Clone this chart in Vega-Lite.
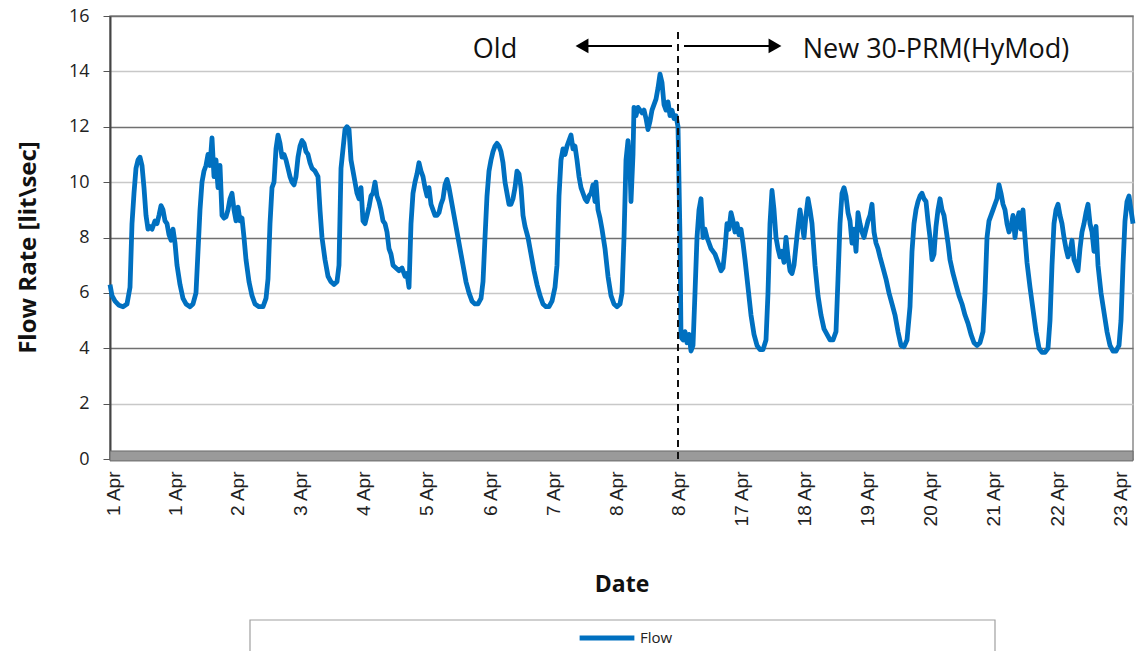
{
  "$schema": "https://vega.github.io/schema/vega-lite/v6.json",
  "autosize": "none",
  "padding": {"left": 110, "top": 16, "right": 12, "bottom": 192},
  "width": 1023,
  "height": 443,
  "background": "white",
  "config": {"font": "Open Sans", "view": {"stroke": "#8a8a8a", "strokeWidth": 1.5}},
  "layer": [
    {
      "data": {"values": [{"a": 0}]},
      "mark": {"type": "rect", "fill": "#9a9a9a", "stroke": "#6a6a6a", "strokeWidth": 1},
      "encoding": {
        "x": {"datum": 0, "type": "quantitative", "scale": {"domain": [0, 1023], "nice": false, "zero": false}},
        "x2": {"datum": 1023},
        "y": {"datum": -0.07, "type": "quantitative", "scale": {"domain": [0, 16], "nice": false}},
        "y2": {"datum": 0.29}
      }
    },
    {
      "data": {"values": [{"a": 0}]},
      "mark": {"type": "rect", "fill": "white", "stroke": "#a0a0a0", "strokeWidth": 1.2},
      "encoding": {
        "x": {"datum": 140, "type": "quantitative"},
        "x2": {"datum": 885},
        "y": {"datum": -5.815, "type": "quantitative"},
        "y2": {"datum": -7.3}
      }
    },
    {
      "data": {"values": [
{"s":0,"v":6.3},{"s":2,"v":5.9},{"s":5,"v":5.7},{"s":9,"v":5.55},{"s":13,"v":5.5},{"s":17,"v":5.6},{"s":20,"v":6.2},{"s":22,"v":8.5},{"s":24,"v":9.6},{"s":26,"v":10.5},{"s":28,"v":10.8},{"s":30,"v":10.9},{"s":32,"v":10.6},{"s":34,"v":9.8},{"s":36,"v":8.8},{"s":38,"v":8.3},{"s":40,"v":8.4},{"s":42,"v":8.3},{"s":45,"v":8.6},{"s":47,"v":8.5},{"s":49,"v":8.8},{"s":51,"v":9.15},{"s":53,"v":9.0},{"s":55,"v":8.6},{"s":57,"v":8.5},{"s":59,"v":8.1},{"s":61,"v":7.9},{"s":63,"v":8.3},{"s":65,"v":7.8},{"s":67,"v":7.0},{"s":70,"v":6.3},{"s":73,"v":5.8},{"s":76,"v":5.6},{"s":80,"v":5.5},{"s":83,"v":5.6},{"s":86,"v":6.0},
{"s":88,"v":7.5},{"s":90,"v":9.0},{"s":92,"v":10.0},{"s":94,"v":10.4},{"s":96,"v":10.6},{"s":98,"v":11.0},{"s":100,"v":10.6},{"s":102,"v":11.6},{"s":104,"v":10.2},{"s":106,"v":10.8},{"s":108,"v":9.8},{"s":110,"v":10.6},{"s":112,"v":8.8},{"s":114,"v":8.7},{"s":116,"v":8.75},{"s":118,"v":9.0},{"s":120,"v":9.4},{"s":122,"v":9.6},{"s":124,"v":9.0},{"s":126,"v":8.6},{"s":128,"v":9.1},{"s":130,"v":8.6},{"s":132,"v":8.7},{"s":134,"v":8.0},{"s":136,"v":7.2},{"s":139,"v":6.4},{"s":142,"v":5.9},{"s":145,"v":5.6},{"s":149,"v":5.5},{"s":153,"v":5.5},{"s":156,"v":5.8},{"s":158,"v":6.5},
{"s":160,"v":8.5},{"s":162,"v":9.8},{"s":164,"v":10.0},{"s":166,"v":11.2},{"s":168,"v":11.7},{"s":170,"v":11.4},{"s":172,"v":10.9},{"s":174,"v":11.0},{"s":176,"v":10.8},{"s":178,"v":10.5},{"s":180,"v":10.2},{"s":182,"v":10.0},{"s":184,"v":9.9},{"s":186,"v":10.2},{"s":188,"v":10.9},{"s":190,"v":11.3},{"s":192,"v":11.5},{"s":194,"v":11.4},{"s":196,"v":11.1},{"s":198,"v":11.0},{"s":200,"v":10.7},{"s":202,"v":10.5},{"s":205,"v":10.4},{"s":208,"v":10.2},{"s":210,"v":9.0},{"s":212,"v":8.0},{"s":215,"v":7.2},{"s":218,"v":6.6},{"s":221,"v":6.4},{"s":224,"v":6.3},{"s":227,"v":6.4},{"s":229,"v":7.0},
{"s":231,"v":10.5},{"s":233,"v":11.2},{"s":235,"v":11.9},{"s":237,"v":12.0},{"s":239,"v":11.9},{"s":241,"v":10.8},{"s":243,"v":10.4},{"s":245,"v":10.0},{"s":247,"v":9.6},{"s":249,"v":9.4},{"s":251,"v":9.8},{"s":253,"v":8.6},{"s":255,"v":8.5},{"s":257,"v":8.8},{"s":259,"v":9.1},{"s":261,"v":9.5},{"s":263,"v":9.6},{"s":265,"v":10.0},{"s":267,"v":9.5},{"s":269,"v":9.3},{"s":271,"v":9.0},{"s":273,"v":8.6},{"s":275,"v":8.5},{"s":277,"v":8.2},{"s":279,"v":7.6},{"s":281,"v":7.4},{"s":283,"v":7.0},{"s":286,"v":6.9},{"s":289,"v":6.8},{"s":292,"v":6.9},{"s":295,"v":6.6},{"s":297,"v":6.7},{"s":299,"v":6.2},
{"s":301,"v":8.5},{"s":303,"v":9.6},{"s":305,"v":10.0},{"s":307,"v":10.3},{"s":309,"v":10.7},{"s":311,"v":10.4},{"s":313,"v":10.2},{"s":315,"v":9.8},{"s":317,"v":9.5},{"s":319,"v":9.8},{"s":321,"v":9.2},{"s":323,"v":9.0},{"s":325,"v":8.8},{"s":327,"v":8.8},{"s":329,"v":8.9},{"s":331,"v":9.2},{"s":333,"v":9.4},{"s":335,"v":9.9},{"s":337,"v":10.1},{"s":339,"v":9.8},{"s":341,"v":9.4},{"s":343,"v":9.0},{"s":345,"v":8.6},{"s":347,"v":8.2},{"s":350,"v":7.6},{"s":353,"v":7.0},{"s":356,"v":6.4},{"s":359,"v":6.0},{"s":362,"v":5.7},{"s":365,"v":5.6},{"s":368,"v":5.6},{"s":371,"v":5.8},{"s":373,"v":6.4},
{"s":375,"v":8.0},{"s":377,"v":9.5},{"s":379,"v":10.4},{"s":381,"v":10.8},{"s":383,"v":11.1},{"s":385,"v":11.3},{"s":387,"v":11.4},{"s":389,"v":11.3},{"s":391,"v":11.1},{"s":393,"v":10.7},{"s":395,"v":10.0},{"s":397,"v":9.6},{"s":399,"v":9.2},{"s":401,"v":9.2},{"s":403,"v":9.4},{"s":405,"v":9.8},{"s":407,"v":10.4},{"s":409,"v":10.3},{"s":411,"v":9.8},{"s":413,"v":8.8},{"s":415,"v":8.4},{"s":418,"v":8.0},{"s":421,"v":7.4},{"s":424,"v":6.8},{"s":427,"v":6.3},{"s":430,"v":5.9},{"s":433,"v":5.6},{"s":436,"v":5.5},{"s":439,"v":5.5},{"s":442,"v":5.7},{"s":445,"v":6.2},{"s":447,"v":7.0},
{"s":449,"v":9.5},{"s":451,"v":10.8},{"s":453,"v":11.2},{"s":455,"v":11.0},{"s":457,"v":11.3},{"s":459,"v":11.5},{"s":461,"v":11.7},{"s":463,"v":11.2},{"s":465,"v":11.3},{"s":467,"v":10.8},{"s":469,"v":10.2},{"s":471,"v":9.8},{"s":473,"v":9.6},{"s":475,"v":9.4},{"s":477,"v":9.3},{"s":479,"v":9.5},{"s":481,"v":9.6},{"s":483,"v":9.9},{"s":485,"v":9.3},{"s":486,"v":10.0},{"s":488,"v":9.0},{"s":490,"v":8.7},{"s":492,"v":8.3},{"s":495,"v":7.6},{"s":498,"v":6.6},{"s":501,"v":5.9},{"s":504,"v":5.6},{"s":507,"v":5.5},{"s":510,"v":5.6},{"s":512,"v":6.0},
{"s":514,"v":8.0},{"s":516,"v":10.8},{"s":518,"v":11.5},{"s":520,"v":10.5},{"s":521,"v":9.3},{"s":523,"v":11.0},{"s":524,"v":12.7},{"s":526,"v":12.4},{"s":528,"v":12.7},{"s":530,"v":12.6},{"s":532,"v":12.5},{"s":534,"v":12.6},{"s":536,"v":12.3},{"s":538,"v":11.9},{"s":540,"v":12.2},{"s":542,"v":12.6},{"s":544,"v":12.8},{"s":546,"v":13.0},{"s":548,"v":13.4},{"s":550,"v":13.9},{"s":552,"v":13.6},{"s":554,"v":12.8},{"s":556,"v":12.6},{"s":558,"v":12.9},{"s":560,"v":12.4},{"s":562,"v":12.6},{"s":564,"v":12.3},{"s":566,"v":12.4},{"s":568,"v":12.0},{"s":570,"v":8.0},
{"s":571,"v":4.4},{"s":573,"v":4.3},{"s":575,"v":4.6},{"s":577,"v":4.2},{"s":579,"v":4.5},{"s":581,"v":3.9},{"s":583,"v":4.1},{"s":585,"v":6.0},{"s":587,"v":8.0},{"s":589,"v":9.0},{"s":591,"v":9.4},{"s":593,"v":8.0},{"s":595,"v":8.3},{"s":597,"v":8.0},{"s":599,"v":7.8},{"s":601,"v":7.6},{"s":603,"v":7.5},{"s":605,"v":7.4},{"s":607,"v":7.2},{"s":609,"v":7.0},{"s":611,"v":6.8},{"s":613,"v":6.9},{"s":615,"v":7.6},{"s":617,"v":8.5},{"s":619,"v":8.3},{"s":621,"v":8.9},{"s":623,"v":8.6},{"s":625,"v":8.2},{"s":627,"v":8.5},{"s":629,"v":8.1},{"s":631,"v":8.3},{"s":633,"v":7.8},{"s":635,"v":7.2},{"s":638,"v":6.2},{"s":641,"v":5.2},{"s":644,"v":4.5},{"s":647,"v":4.1},{"s":650,"v":3.95},{"s":653,"v":3.95},{"s":656,"v":4.3},{"s":658,"v":6.0},
{"s":660,"v":8.5},{"s":662,"v":9.7},{"s":664,"v":9.0},{"s":666,"v":8.0},{"s":668,"v":7.6},{"s":670,"v":7.3},{"s":672,"v":7.5},{"s":674,"v":7.1},{"s":676,"v":8.0},{"s":678,"v":7.3},{"s":680,"v":6.8},{"s":682,"v":6.7},{"s":684,"v":7.0},{"s":686,"v":7.7},{"s":688,"v":8.4},{"s":690,"v":9.0},{"s":692,"v":8.5},{"s":694,"v":8.0},{"s":696,"v":8.8},{"s":698,"v":9.4},{"s":700,"v":9.0},{"s":702,"v":8.5},{"s":705,"v":7.0},{"s":708,"v":5.9},{"s":711,"v":5.2},{"s":714,"v":4.7},{"s":717,"v":4.5},{"s":720,"v":4.3},{"s":723,"v":4.3},{"s":726,"v":4.6},{"s":728,"v":6.5},
{"s":730,"v":8.5},{"s":732,"v":9.6},{"s":734,"v":9.8},{"s":736,"v":9.5},{"s":738,"v":8.9},{"s":740,"v":8.6},{"s":742,"v":7.8},{"s":744,"v":8.3},{"s":746,"v":7.5},{"s":748,"v":8.9},{"s":750,"v":8.5},{"s":752,"v":8.2},{"s":754,"v":8.0},{"s":756,"v":8.3},{"s":758,"v":8.6},{"s":760,"v":8.8},{"s":762,"v":9.2},{"s":764,"v":8.2},{"s":766,"v":7.8},{"s":768,"v":7.6},{"s":770,"v":7.3},{"s":773,"v":6.9},{"s":776,"v":6.5},{"s":779,"v":6.0},{"s":782,"v":5.6},{"s":785,"v":5.2},{"s":788,"v":4.6},{"s":791,"v":4.1},{"s":794,"v":4.05},{"s":797,"v":4.3},{"s":800,"v":5.5},
{"s":802,"v":7.5},{"s":804,"v":8.5},{"s":806,"v":9.0},{"s":808,"v":9.3},{"s":810,"v":9.5},{"s":812,"v":9.6},{"s":814,"v":9.4},{"s":816,"v":9.3},{"s":818,"v":8.6},{"s":820,"v":8.0},{"s":822,"v":7.2},{"s":824,"v":7.4},{"s":826,"v":8.4},{"s":828,"v":9.0},{"s":830,"v":9.4},{"s":832,"v":9.0},{"s":834,"v":8.8},{"s":836,"v":8.3},{"s":838,"v":7.8},{"s":840,"v":7.2},{"s":843,"v":6.7},{"s":846,"v":6.3},{"s":849,"v":5.9},{"s":852,"v":5.6},{"s":855,"v":5.2},{"s":858,"v":4.9},{"s":861,"v":4.5},{"s":864,"v":4.2},{"s":867,"v":4.1},{"s":870,"v":4.2},{"s":873,"v":4.6},{"s":875,"v":6.0},
{"s":877,"v":8.0},{"s":879,"v":8.6},{"s":881,"v":8.8},{"s":883,"v":9.0},{"s":885,"v":9.2},{"s":887,"v":9.4},{"s":889,"v":9.9},{"s":891,"v":9.6},{"s":893,"v":9.2},{"s":895,"v":9.0},{"s":897,"v":8.5},{"s":899,"v":8.2},{"s":901,"v":8.4},{"s":903,"v":8.8},{"s":905,"v":8.0},{"s":907,"v":8.6},{"s":909,"v":8.9},{"s":911,"v":8.3},{"s":913,"v":9.0},{"s":915,"v":8.0},{"s":917,"v":7.1},{"s":920,"v":6.2},{"s":923,"v":5.4},{"s":926,"v":4.6},{"s":929,"v":4.0},{"s":932,"v":3.85},{"s":935,"v":3.85},{"s":938,"v":4.0},{"s":940,"v":5.0},
{"s":942,"v":7.0},{"s":944,"v":8.5},{"s":946,"v":9.0},{"s":948,"v":9.2},{"s":950,"v":8.8},{"s":952,"v":8.5},{"s":954,"v":8.0},{"s":956,"v":7.6},{"s":958,"v":7.3},{"s":960,"v":7.5},{"s":962,"v":7.9},{"s":964,"v":7.2},{"s":966,"v":7.0},{"s":968,"v":6.8},{"s":970,"v":7.6},{"s":972,"v":8.2},{"s":974,"v":8.5},{"s":976,"v":8.9},{"s":978,"v":9.2},{"s":980,"v":8.5},{"s":982,"v":8.2},{"s":984,"v":7.5},{"s":986,"v":8.4},{"s":988,"v":7.0},{"s":991,"v":6.0},{"s":994,"v":5.3},{"s":997,"v":4.6},{"s":1000,"v":4.1},{"s":1003,"v":3.9},{"s":1006,"v":3.9},{"s":1009,"v":4.1},{"s":1011,"v":5.0},{"s":1013,"v":7.0},{"s":1015,"v":8.6},{"s":1017,"v":9.3},{"s":1019,"v":9.5},{"s":1021,"v":9.0},{"s":1023,"v":8.5}
      ]},
      "mark": {"type": "line", "strokeWidth": 4.8, "strokeJoin": "round"},
      "encoding": {
        "x": {
          "field": "s", "type": "quantitative",
          "scale": {"domain": [0, 1023], "nice": false, "zero": false},
          "axis": {
            "values": [3, 65, 127, 190, 253, 316, 380, 443, 506, 568, 631, 694, 757, 820, 883, 947, 1010],
            "labelExpr": "['1 Apr','1 Apr','2 Apr','3 Apr','4 Apr','5 Apr','6 Apr','7 Apr','8 Apr','8 Apr','17 Apr','18 Apr','19 Apr','20 Apr','21 Apr','22 Apr','23 Apr'][indexof([3, 65, 127, 190, 253, 316, 380, 443, 506, 568, 631, 694, 757, 820, 883, 947, 1010], datum.value)]",
            "labelAngle": -90, "labelFont": "Liberation Sans", "labelFontSize": 19, "labelColor": "#222",
            "labelPadding": 12, "labelFlush": false, "labelOverlap": false,
            "ticks": false, "domain": false, "grid": false,
            "title": "Date", "titleFont": "Open Sans", "titleFontSize": 23, "titleFontWeight": "bold", "titleColor": "#111", "titlePadding": 47
          }
        },
        "y": {
          "field": "v", "type": "quantitative",
          "scale": {"domain": [0, 16], "nice": false},
          "axis": {
            "values": [0, 2, 4, 6, 8, 10, 12, 14, 16],
            "title": "Flow Rate [lit\\sec]", "titleFont": "Open Sans", "titleFontSize": 24, "titleFontWeight": "bold", "titleColor": "#111", "titlePadding": 28, "titleY": 231,
            "labelFont": "Open Sans", "labelFontSize": 18, "labelColor": "#222", "labelPadding": 14,
            "tickSize": 7, "tickColor": "#555", "domainColor": "#444", "domainWidth": 2,
            "grid": true,
            "gridColor": {"condition": {"test": "datum.value % 4 === 0", "value": "#707070"}, "value": "#c8c8c8"},
            "gridWidth": 1.5
          }
        },
        "color": {
          "datum": "Flow",
          "scale": {"range": ["#0070C0"]},
          "legend": {
            "orient": "none", "legendX": 467, "legendY": 592, "direction": "horizontal",
            "title": null, "padding": 0,
            "symbolType": "stroke", "symbolStrokeWidth": 5, "symbolSize": 3000,
            "labelFont": "Open Sans", "labelFontSize": 15, "labelColor": "#222", "labelOffset": 3
          }
        }
      }
    },
    {
      "data": {"values": [{"a": 0}]},
      "mark": {"type": "rule", "color": "#111", "strokeWidth": 2, "strokeDash": [7, 5]},
      "encoding": {
        "x": {"datum": 568, "type": "quantitative"},
        "y": {"datum": 0, "type": "quantitative"},
        "y2": {"datum": 15.6}
      }
    },
    {
      "data": {"values": [{"from": 470, "to": 562}, {"from": 574, "to": 664}]},
      "mark": {"type": "rule", "color": "#000", "strokeWidth": 2},
      "encoding": {
        "x": {"field": "from", "type": "quantitative"},
        "x2": {"field": "to"},
        "y": {"datum": 14.92, "type": "quantitative"}
      }
    },
    {
      "data": {"values": [{"pos": 472, "dir": "triangle-left"}, {"pos": 665, "dir": "triangle-right"}]},
      "mark": {"type": "point", "filled": true, "color": "#000", "opacity": 1, "size": 220},
      "encoding": {
        "x": {"field": "pos", "type": "quantitative"},
        "y": {"datum": 14.92, "type": "quantitative"},
        "shape": {"field": "dir", "type": "nominal", "scale": null}
      }
    },
    {
      "data": {"values": [{"pos": 385, "txt": "Old"}, {"pos": 826, "txt": "New 30-PRM(HyMod)"}]},
      "mark": {"type": "text", "font": "Open Sans", "fontSize": 27, "color": "#111", "align": "center", "baseline": "middle"},
      "encoding": {
        "x": {"field": "pos", "type": "quantitative"},
        "y": {"datum": 14.77, "type": "quantitative"},
        "text": {"field": "txt"}
      }
    }
  ]
}
